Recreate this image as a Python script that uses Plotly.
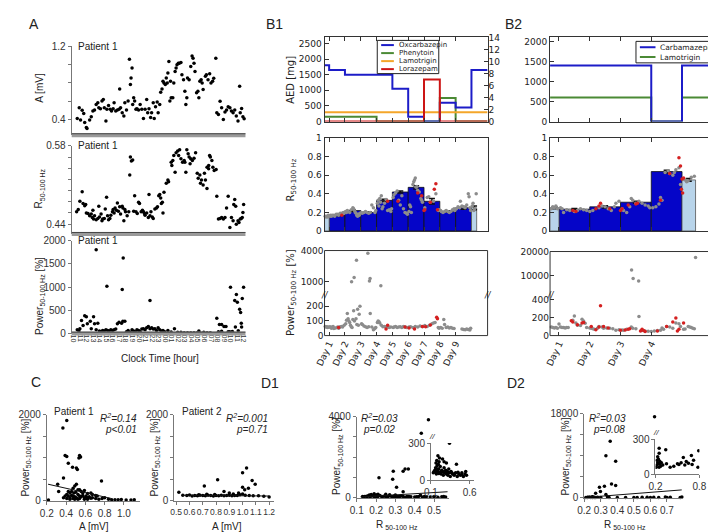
import plotly.graph_objects as go

# ======================= DATA =======================
# Panel A (Patient 1): (clock time in hours, value); 24+ = next day
a_amp_pts = [(10.60,0.411),(10.90,0.530),(11.10,0.396),(11.35,0.501),(11.59,0.468),(11.74,0.368),(11.99,0.314),(12.09,0.303),
 (12.49,0.396),(12.74,0.432),(12.99,0.494),(13.24,0.505),(13.49,0.566),(13.74,0.584),(13.89,0.530),(14.14,0.519),(14.38,0.602),
 (14.58,0.620),(14.73,0.530),(14.98,0.386),(15.13,0.512),(15.38,0.555),(15.63,0.512),(15.83,0.494),(16.08,0.519),(16.23,0.584),
 (16.48,0.494),(16.73,0.505),(16.98,0.512),(17.08,0.735),(17.22,0.530),(17.47,0.476),(17.72,0.440),(17.87,0.584),(18.12,0.505),
 (18.37,0.602),(18.57,1.059),(18.72,0.782),(18.82,0.854),(18.97,0.962),(19.07,0.566),(19.22,0.638),(19.37,0.602),(19.57,0.512),
 (19.72,0.519),(19.97,0.505),(20.21,0.566),(20.46,0.512),(20.71,0.411),(20.96,0.512),(21.21,0.620),(21.36,0.476),(21.56,0.519),
 (21.81,0.422),(21.96,0.476),(22.21,0.584),(22.36,0.411),(22.56,0.541),(22.81,0.591),(22.96,0.476),(23.20,0.566),(23.35,0.699),
 (23.55,0.735),(23.70,0.818),(23.85,0.800),(24.05,0.782),(24.20,0.854),(24.35,0.800),(24.45,0.908),(24.60,1.034),(24.75,0.602),
 (24.85,0.818),(24.95,0.638),(25.20,0.638),(25.35,0.800),(25.55,0.926),(25.70,0.962),(25.84,0.998),(26.04,1.016),(26.19,1.016),
 (26.44,1.023),(26.59,0.890),(26.84,0.836),(27.04,0.710),(27.19,0.566),(27.34,0.638),(27.44,0.854),(27.69,0.836),(27.94,0.980),
 (28.14,1.095),(28.29,1.070),(28.44,1.016),(28.59,0.926),(28.83,0.692),(29.03,0.710),(29.18,0.638),(29.33,0.818),(29.53,0.836),
 (29.68,0.800),(29.83,0.728),(30.18,0.872),(30.33,0.890),(30.58,0.836),(30.83,0.901),(31.03,0.800),(31.28,0.818),(31.45,0.85),
 (31.67,0.22),(31.77,1.07),(31.92,0.476),(32.17,0.457),(32.42,0.60),(32.66,0.53),(32.92,0.40),(33.17,0.483),(33.41,0.505),
 (33.66,0.54),(33.92,0.53),(34.16,0.494),(34.41,0.476),(34.66,0.505),(34.90,0.44),(35.16,0.386),(35.41,0.764),(35.50,0.476),
 (35.71,0.52),(35.91,0.43),(36.10,0.41)]

a_r_pts = [(10.50,0.462),(10.75,0.466),(11.00,0.481),(11.35,0.498),(11.49,0.477),(11.74,0.473),(11.89,0.475),(11.99,0.460),
 (12.24,0.459),(12.49,0.455),(12.74,0.458),(12.89,0.452),(12.99,0.465),(13.09,0.449),(13.24,0.455),(13.49,0.448),(13.74,0.450),
 (13.89,0.472),(13.99,0.453),(14.24,0.458),(14.38,0.446),(14.48,0.449),(14.73,0.450),(14.88,0.467),(15.08,0.488),(15.23,0.455),
 (15.38,0.448),(15.58,0.450),(15.73,0.456),(15.98,0.462),(16.08,0.466),(16.23,0.460),(16.38,0.469),(16.58,0.465),(16.73,0.478),
 (16.88,0.463),(17.08,0.471),(17.22,0.458),(17.47,0.472),(17.57,0.469),(17.72,0.446),(17.87,0.466),(17.97,0.462),(18.22,0.455),
 (18.47,0.462),(18.62,0.528),(18.72,0.560),(18.87,0.553),(19.07,0.555),(19.22,0.463),(19.37,0.491),(19.57,0.462),(19.77,0.459),
 (19.97,0.479),(20.11,0.477),(20.36,0.462),(20.56,0.465),(20.71,0.462),(20.86,0.459),(20.96,0.456),(21.21,0.460),(21.46,0.452),
 (21.56,0.493),(21.71,0.455),(21.86,0.462),(22.06,0.453),(22.21,0.450),(22.46,0.467),(22.71,0.469),(22.86,0.471),(23.05,0.491),
 (23.20,0.493),(23.35,0.487),(23.45,0.477),(23.60,0.479),(23.70,0.460),(23.85,0.497),(24.20,0.513),(24.45,0.519),(24.55,0.516),
 (24.95,0.551),(25.05,0.545),(25.20,0.554),(25.35,0.563),(25.55,0.533),(25.70,0.568),(25.94,0.571),(26.09,0.563),(26.24,0.573),
 (26.44,0.557),(26.69,0.551),(26.94,0.554),(27.04,0.551),(27.19,0.533),(27.34,0.573),(27.54,0.566),(27.69,0.560),(27.84,0.548),
 (27.94,0.557),(28.19,0.554),(28.44,0.558),(28.68,0.568),(28.93,0.531),(29.08,0.522),(29.33,0.528),(29.43,0.513),(29.58,0.519),
 (29.83,0.510),(30.03,0.531),(30.18,0.519),(30.42,0.504),(30.43,0.542),(30.67,0.539),(30.68,0.545),(30.82,0.563),(30.93,0.560),
 (31.17,0.554),(31.32,0.542),(31.52,0.536),(31.82,0.538),(31.92,0.490),(32.17,0.449),(32.42,0.450),(32.66,0.452),(32.92,0.449),
 (33.17,0.452),(33.41,0.469),(33.66,0.490),(33.92,0.434),(34.16,0.452),(34.41,0.446),(34.51,0.475),(34.66,0.484),(34.81,0.472),
 (34.90,0.440),(35.16,0.446),(35.31,0.443),(35.50,0.449),(35.66,0.450),(35.81,0.452),(35.91,0.461),(36.02,0.475)]

a_pow_pts = [(10.60,84),(10.85,56),(11.00,105),(11.25,281),(11.49,175),(11.74,386),(11.99,365),(12.14,211),(12.59,267),
 (12.74,105),(13.09,365),(13.24,211),(13.49,1804),(13.49,84),(13.74,225),(13.99,56),(14.24,42),(14.48,70),(14.73,56),(14.98,84),
 (15.13,1018),(15.23,70),(15.48,56),(15.73,84),(15.98,70),(16.23,84),(16.48,98),(16.73,211),(16.98,246),(17.37,225),(17.47,948),
 (17.62,1629),(17.57,267),(17.87,267),(18.12,42),(18.37,70),(18.72,28),(18.97,84),(19.22,56),(19.47,42),(19.72,84),(19.97,70),
 (20.21,42),(20.46,98),(20.71,105),(20.96,84),(21.21,126),(21.46,154),(21.71,716),(21.71,105),(21.96,126),(22.21,98),(22.46,105),
 (22.71,70),(22.96,126),(23.20,84),(23.45,56),(23.70,70),(23.95,42),(24.45,70),(24.95,35),(25.45,105),(25.94,28),(26.44,28),
 (26.94,21),(27.44,21),(27.94,21),(28.44,21),(28.93,21),(29.18,56),(29.43,14),(29.93,28),(30.43,21),(30.93,21),(31.92,330),
 (32.17,40),(32.32,197),(32.66,197),(32.66,50),(33.02,155),(33.32,155),(33.66,40),(34.01,997),(34.66,716),(34.76,141),
 (34.91,842),(35.06,674),(35.41,526),(35.56,456),(35.71,141),(35.81,758),(36.01,997),(35.66,225),(34.30,45),(33.90,40),(35.20,60)]

clock_hours = [10,11,12,13,14,15,16,17,18,19,20,21,22,23,24,25,26,27,28,29,30,31,32,33,34,35,36]
clock_labels = ["10","11","12","13","14","15","16","17","18","19","20","21","22","23",
                "00","01","02","03","04","05","06","07","08","09","10","11","12"]

# Panel B1 (days)
b1_oxc_t = [0.71,1.0,2.0,5.0,6.0,7.0,8.0,9.0,10.0,11.02]
b1_oxc_mg = [1800,1650,1500,1050,150,0,600,450,1650,1650]
b1_phe_t = [0.71,4.0,8.0,9.0,11.02]
b1_phe_mg = [150,0,750,0,0]
b1_ltg_t = [0.71,11.02]
b1_ltg_mg = [300,300]
b1_lzp_t = [0.71,7.0,8.0,11.02]
b1_lzp_mg = [0,7,0,0]          # right axis
b1_days = [1,2,3,4,5,6,7,8,9]
b1_r_mean = [0.17,0.22,0.20,0.33,0.42,0.47,0.32,0.21,0.25]
b1_r_err = [0.005,0.01,0.006,0.012,0.012,0.018,0.03,0.008,0.015]
b1_part_start = [0.71,10.0]
b1_part_end = [1.0,10.33]
b1_part_mean = [0.16,0.25]
b1_part_err = [0.005,0.02]
b1_r_gray = [(0.75,0.16),(0.8,0.15),(0.85,0.16),(0.9,0.15),(0.95,0.17),(1.05,0.16),(1.1,0.17),(1.15,0.16),(1.2,0.17),
 (1.3,0.17),(1.35,0.16),(1.45,0.18),(1.55,0.18),(1.6,0.17),(1.7,0.19),(1.8,0.19),(1.9,0.2),(1.95,0.19),(2.05,0.21),(2.1,0.2),
 (2.15,0.22),(2.2,0.21),(2.3,0.2),(2.4,0.23),(2.5,0.25),(2.55,0.24),(2.6,0.22),(2.65,0.2),(2.7,0.19),(2.75,0.17),(2.8,0.16),
 (2.85,0.18),(2.9,0.17),(2.95,0.19),(3.05,0.2),(3.1,0.19),(3.2,0.2),(3.3,0.21),(3.4,0.2),(3.5,0.19),(3.6,0.2),(3.7,0.28),
 (3.8,0.25),(3.9,0.2),(3.95,0.22),(4.05,0.3),(4.1,0.33),(4.15,0.27),(4.2,0.35),(4.25,0.31),(4.3,0.38),(4.35,0.24),(4.4,0.26),
 (4.5,0.3),(4.6,0.34),(4.7,0.22),(4.8,0.23),(4.9,0.21),(4.95,0.24),(5.05,0.36),(5.1,0.39),(5.2,0.41),(5.3,0.43),(5.4,0.33),
 (5.5,0.28),(5.6,0.38),(5.7,0.24),(5.8,0.2),(5.9,0.19),(5.95,0.18),(6.05,0.21),(6.1,0.28),(6.15,0.26),(6.2,0.2),(6.3,0.5),
 (6.35,0.53),(6.4,0.55),(6.45,0.57),(6.5,0.47),(6.55,0.48),(6.6,0.44),(6.7,0.42),(6.8,0.35),(6.85,0.33),(6.9,0.31),(7.05,0.25),
 (7.2,0.36),(7.3,0.37),(7.4,0.31),(7.6,0.32),(7.75,0.4),(7.9,0.22),(7.95,0.23),(8.05,0.22),(8.1,0.21),(8.2,0.2),(8.3,0.21),
 (8.4,0.22),(8.5,0.21),(8.6,0.2),(8.7,0.21),(8.8,0.23),(8.9,0.24),(8.95,0.22),(9.05,0.24),(9.15,0.26),(9.25,0.25),(9.3,0.32),
 (9.4,0.27),(9.5,0.26),(9.6,0.25),(9.7,0.28),(9.8,0.4),(9.85,0.37),(9.9,0.25),(9.95,0.22),(10.05,0.27),(10.1,0.3),(10.15,0.22),
 (10.2,0.24),(10.3,0.4)]
b1_r_red = [(1.8,0.17),(4.7,0.32),(5.35,0.32),(6.6,0.41),(6.85,0.38),(7.0,0.22),(7.05,0.23),(7.4,0.31),(7.65,0.45),(7.75,0.51),(7.85,0.23)]
b1_p_gray = [(0.75,62),(0.8,58),(0.85,60),(0.9,55),(0.95,58),(1.05,60),(1.1,55),(1.15,50),(1.2,58),(1.25,62),(1.3,48),(1.4,52),
 (1.5,55),(1.55,58),(1.6,50),(1.65,55),(1.7,60),(1.8,62),(1.85,58),(1.95,70),(2.05,80),(2.1,105),(2.15,150),(2.2,115),(2.25,100),
 (2.3,90),(2.35,70),(2.4,60),(2.45,55),(2.5,110),(2.55,170),(2.6,100),(2.7,115),(2.75,75),(2.8,180),(2.85,70),(2.9,145),(2.95,200),
 (3.05,80),(3.1,75),(3.2,65),(3.3,60),(3.4,55),(3.5,60),(3.6,150),(3.7,58),(3.8,40),(3.85,45),(3.9,50),(3.95,55),(4.05,90),
 (4.1,100),(4.15,95),(4.2,85),(4.3,70),(4.4,60),(4.5,62),(4.6,58),(4.7,60),(4.8,55),(4.9,58),(5.05,55),(5.1,58),(5.2,62),(5.3,55),
 (5.4,58),(5.5,60),(5.6,55),(5.7,62),(5.8,58),(5.9,55),(6.05,58),(6.15,60),(6.3,55),(6.45,62),(6.6,58),(6.75,65),(6.9,60),
 (7.05,68),(7.2,62),(7.35,70),(7.5,80),(7.6,85),(7.7,90),(7.9,55),(7.95,50),(8.05,55),(8.15,50),(8.25,110),(8.3,75),(8.4,55),
 (8.5,58),(8.6,52),(8.7,55),(8.8,50),(8.9,48),(9.4,45),(9.5,42),(9.6,40),(9.7,45),(9.8,42),(9.9,38),(9.95,50),
 (2.42,1000),(2.58,1419),(2.73,3097),(3.45,3774),(3.55,1065),(3.59,1323),(4.27,600)]
b1_p_red = [(1.6,55),(4.6,45),(4.7,70),(5.8,58),(6.4,45),(6.9,62),(7.1,60),(7.4,72),(7.8,125),(7.85,115),(6.05,52)]

# Panel B2 (days)
b2_cbz_t = [0.71,4.0,5.0,6.01]
b2_cbz_mg = [1400,0,1400,1400]
b2_ltg_t = [0.71,4.0,5.0,6.01]
b2_ltg_mg = [600,0,600,600]
b2_days = [1,2,3,4]
b2_r_mean = [0.235,0.26,0.31,0.64]
b2_r_err = [0.006,0.012,0.01,0.015]
b2_part_start = [0.71,5.0]
b2_part_end = [1.0,5.44]
b2_part_mean = [0.25,0.55]
b2_part_err = [0.01,0.015]
b2_r_gray = [(0.75,0.24),(0.8,0.26),(0.85,0.25),(0.9,0.27),(0.95,0.24),(1.05,0.25),(1.1,0.24),(1.15,0.2),(1.25,0.23),(1.35,0.22),
 (1.5,0.21),(1.6,0.22),(1.7,0.24),(1.8,0.23),(1.9,0.22),(2.0,0.21),(2.1,0.22),(2.3,0.25),(2.4,0.27),(2.5,0.26),(2.6,0.24),
 (2.7,0.22),(2.8,0.26),(2.85,0.3),(2.95,0.32),(3.05,0.24),(3.1,0.22),(3.2,0.2),(3.3,0.26),(3.35,0.35),(3.4,0.33),(3.5,0.3),
 (3.6,0.32),(3.7,0.3),(3.8,0.28),(3.9,0.27),(3.95,0.25),(4.05,0.25),(4.15,0.26),(4.25,0.29),(4.3,0.36),(4.35,0.33),(4.45,0.63),
 (4.55,0.65),(4.6,0.62),(4.7,0.6),(4.75,0.63),(4.8,0.66),(4.9,0.68),(4.95,0.5),(5.05,0.56),(5.1,0.55),(5.15,0.53),(5.2,0.54),
 (5.3,0.58),(5.4,0.59)]
b2_r_red = [(1.45,0.22),(1.55,0.21),(2.2,0.24),(2.3,0.27),(2.35,0.3),(2.65,0.24),(3.0,0.22),(3.05,0.24),(3.25,0.28),(3.5,0.29),
 (3.55,0.3),(4.3,0.33),(4.6,0.62),(4.9,0.79),(4.95,0.7),(5.0,0.56),(5.05,0.57),(5.02,0.41),(4.98,0.45)]
b2_p_gray = [(0.75,95),(0.8,90),(0.85,85),(0.9,88),(0.95,82),(1.0,128),(1.05,95),(1.1,90),(1.15,88),(1.2,85),(1.25,88),(1.3,90),
 (1.45,170),(1.5,215),(1.55,140),(1.6,115),(1.7,110),(1.75,180),(1.8,160),(1.85,135),(1.9,90),(2.0,85),(2.05,80),(2.1,75),
 (2.15,70),(2.25,80),(2.3,100),(2.4,95),(2.45,80),(2.55,85),(2.65,80),(2.75,75),(2.85,60),(2.95,65),(3.05,62),(3.1,60),(3.2,70),
 (3.35,95),(3.4,80),(3.5,75),(3.6,210),(3.7,55),(3.8,50),(3.9,48),(4.0,45),(4.1,50),(4.2,55),(4.3,60),(4.35,85),(4.4,70),
 (4.5,100),(4.6,95),(4.7,80),(4.8,140),(4.9,130),(4.95,100),(5.05,70),(5.1,72),(5.2,100),(5.25,95),(5.3,90),(5.35,80),(5.4,75),
 (3.36,12360),(3.41,8890),(3.59,7780),(5.44,17640)]
b2_p_red = [(1.4,165),(1.45,150),(1.6,120),(1.75,140),(1.8,145),(2.05,100),(2.2,65),(2.3,95),(2.35,330),(2.45,100),(2.6,85),
 (3.0,60),(3.15,62),(3.25,70),(3.3,75),(3.65,50),(3.7,70),(3.75,55),(3.8,45),(4.2,50),(4.5,100),(4.7,150),(4.8,195),(4.85,50),
 (4.9,70),(5.05,140)]
day_ticks_b1 = [1,2,3,4,5,6,7,8,9]
day_labels_b1 = ["Day 1","Day 2","Day 3","Day 4","Day 5","Day 6","Day 7","Day 8","Day 9"]
day_ticks_b2 = [1,2,3,4]
day_labels_b2 = ["Day 1","Day 2","Day 3","Day 4"]

# Panel C: (A [mV], Power [%])
c1_pts = [(0.407,1868),(0.367,1694),(0.39,1054),(0.407,1032),(0.423,872),(0.467,778),(0.507,763),(0.517,727),(0.54,1054),
 (0.533,996),(0.55,1018),(0.373,531),(0.313,385),(0.323,218),(0.507,385),(0.767,458),(0.473,291),(0.49,342),(0.457,218),
 (0.54,254),(0.557,218),(0.59,240),(0.407,145),(0.423,109),(0.44,73),(0.457,124),(0.473,109),(0.49,95),(0.507,73),(0.523,145),
 (0.54,109),(0.557,95),(0.573,124),(0.59,73),(0.607,109),(0.623,73),(0.64,95),(0.657,58),(0.673,73),(0.707,51),(0.74,36),
 (0.773,51),(0.80,73),(0.84,36),(0.873,22),(0.907,22),(0.94,22),(0.973,29),(1.023,15),(1.073,15),(1.107,22),(0.217,15),
 (0.48,182),(0.50,196),(0.523,254),(0.573,182),(0.623,167),(0.673,145),(0.723,109),(0.657,182),(0.707,124),(0.44,182),
 (0.423,218),(0.39,109),(0.373,73),(0.407,51),(0.49,36),(0.54,51),(0.59,36),(0.623,36),(0.523,36),(0.473,51),(0.44,36)]
c1_fit_x = [0.213,0.873]
c1_fit_y = [385,51]
c2_pts = [(0.712,342),(0.812,487),(1.0,654),(1.03,763),(1.072,473),(1.095,385),(1.0,313),(1.044,291),(1.016,254),(0.86,218),
 (0.90,182),(0.52,196),(0.55,130),(0.58,120),(0.6,135),(0.62,110),(0.64,125),(0.66,118),(0.68,130),(0.7,122),(0.72,115),
 (0.74,128),(0.76,120),(0.78,112),(0.8,125),(0.82,118),(0.84,130),(0.86,115),(0.88,122),(0.9,128),(0.92,118),(0.94,125),
 (0.96,120),(0.98,140),(1.0,160),(1.02,130),(1.05,120),(1.08,115),(1.12,118),(1.16,105),(1.2,90),(0.67,140),(0.73,150),
 (0.79,145),(0.93,160),(0.97,180)]
c2_fit_x = [0.55,1.2]
c2_fit_y = [128,110]

# Panel D: (R 50-100 Hz, Power [%])
d1_pts = [(0.471,3852),(0.434,3180),(0.34,1314),(0.35,1418),(0.367,1418),(0.289,1314),(0.215,985),(0.286,911),(0.306,523),
 (0.34,299),(0.13,60),(0.15,80),(0.16,100),(0.17,50),(0.18,120),(0.19,70),(0.2,90),(0.21,60),(0.22,110),(0.23,50),(0.24,80),
 (0.25,70),(0.26,40),(0.27,100),(0.28,60),(0.29,80),(0.3,50),(0.31,70),(0.32,40),(0.33,90),(0.34,60),(0.35,30),(0.36,70),
 (0.38,50),(0.4,40),(0.42,60),(0.44,30),(0.46,50),(0.48,40),(0.5,60),(0.52,30),(0.54,50),(0.56,40),(0.165,140),(0.175,160),
 (0.185,90),(0.195,130),(0.205,150),(0.19,198),(0.25,172),(0.21,180),(0.27,150),(0.3,140),(0.43,130),(0.14,70),(0.155,65),
 (0.17,75),(0.2,55),(0.23,70),(0.26,65),(0.29,60),(0.32,65),(0.37,60),(0.41,55),(0.45,65),(0.5,45),(0.55,70)]
d1_fit_x = [0.12,0.57]
d1_fit_y = [45,300]
d2_pts = [(0.625,17345),(0.357,12108),(0.331,9032),(0.39,7854),(0.365,2945),(0.39,2618),(0.292,2291),(0.322,2487),
 (0.298,1374),(0.269,982),(0.331,720),(0.25,222),(0.34,209),(0.58,144),(0.69,162),(0.79,201),(0.52,84),(0.21,60),(0.22,120),
 (0.23,150),(0.24,90),(0.25,180),(0.26,110),(0.27,70),(0.28,100),(0.22,80),(0.23,100),(0.24,130),(0.25,60),(0.26,90),
 (0.3,80),(0.45,70),(0.5,90),(0.55,100),(0.6,80),(0.62,110),(0.65,95),(0.7,85),(0.72,120),(0.78,60),(0.4,60),(0.35,90)]
d2_fit_x = [0.2,0.79]
d2_fit_y = [65,1700]

# ======================= LAYOUT HELPERS =======================
W, H = 716, 532
ARIAL = "Liberation Sans, Arial, sans-serif"
DEJ = "DejaVu Sans, sans-serif"

def dx(a, b):
    return [a / W, b / W]

def dy(top, bottom):
    return [1 - bottom / H, 1 - top / H]

fig = go.Figure()
L = dict(width=W, height=H, margin=dict(l=0, r=0, t=0, b=0), paper_bgcolor="white",
         plot_bgcolor="rgba(0,0,0,0)", showlegend=False)
shapes, ann = [], []
cnt = [0]

def axes(xdom, ydom, xr, yr, xo=None, yo=None):
    cnt[0] += 1
    s = "" if cnt[0] == 1 else str(cnt[0])
    xa = dict(domain=dx(*xdom), range=xr, anchor="y" + s, showgrid=False, zeroline=False,
              showline=False, ticks="", showticklabels=False)
    ya = dict(domain=dy(*ydom), range=yr, anchor="x" + s, showgrid=False, zeroline=False,
              showline=False, ticks="", showticklabels=False)
    if xo: xa.update(xo)
    if yo: ya.update(yo)
    L["xaxis" + s] = xa
    L["yaxis" + s] = ya
    return "x" + s, "y" + s

def text(x, y, t, size=10, font=ARIAL, angle=0, xa="center", ya="middle", italic=False, color="#222"):
    ann.append(dict(x=x / W, y=1 - y / H, xref="paper", yref="paper", text=t, showarrow=False,
                    textangle=angle, xanchor=xa, yanchor=ya,
                    font=dict(family=font, size=size, color=color,
                              style="italic" if italic else "normal")))

def hline(x0, x1, y, color, width, dash="solid"):
    shapes.append(dict(type="line", xref="paper", yref="paper", x0=x0 / W, x1=x1 / W,
                       y0=1 - y / H, y1=1 - y / H, line=dict(color=color, width=width, dash=dash)))

def unzip(pts):
    return [p[0] for p in pts], [p[1] for p in pts]

def dots(xa, ya, pts, color="black", size=3.5, clip=False):
    x, y = unzip(pts)
    fig.add_trace(go.Scatter(x=x, y=y, mode="markers", xaxis=xa, yaxis=ya, cliponaxis=clip,
                             marker=dict(color=color, size=size, line=dict(width=0))))

def yA(vals, texts):
    return dict(showline=True, linecolor="#777", linewidth=1, ticks="outside", ticklen=3, tickcolor="#777",
                showticklabels=True, tickvals=vals, ticktext=texts,
                tickfont=dict(family=ARIAL, size=10, color="#333"))

# ======================= PANEL A =======================
A_X = (55, 233)
A_XR = [9.75, 36.3]
xa, ya = axes(A_X, (33, 124), A_XR, [0.23, 1.2], yo=yA([0.4, 0.6, 0.8, 1.0, 1.2], ["0.4", "", "", "", "1.2"]))
dots(xa, ya, a_amp_pts)
xa, ya = axes(A_X, (135, 225), A_XR, [0.4225, 0.58],
              yo=yA([0.44, 0.46, 0.48, 0.50, 0.52, 0.54, 0.56, 0.58], ["0.44", "", "", "", "", "", "", "0.58"]))
dots(xa, ya, a_r_pts)
xa, ya = axes(A_X, (232, 327), A_XR, [0, 2000],
              xo=dict(showticklabels=True, tickvals=clock_hours, ticktext=clock_labels, tickangle=90,
                      tickfont=dict(family=ARIAL, size=7, color="#333")),
              yo=yA([0, 500, 1000, 1500, 2000], ["0", "500", "1000", "1500", "2000"]))
dots(xa, ya, a_pow_pts)
for yb in (124, 225, 327):
    hline(55, 233, yb, "#9a9a9a", 4)
    hline(55, 233, yb - 1.5, "#444", 1)
for yt in (33, 135, 232):
    text(59, yt, "Patient 1", size=10, xa="left")
text(22, 75, "A [mV]", size=10, angle=-90)
text(22, 178, "R<sub>50-100 Hz</sub>", size=10, angle=-90)
text(22, 288, "Power<sub>50-100 Hz</sub> [%]", size=10, angle=-90)
text(145, 352, "Clock Time [hour]", size=10)

# ======================= PANEL B helpers =======================
def yB(vals, texts, mirror=True):
    return dict(showline=True, mirror=mirror, linecolor="#333", linewidth=1, ticks="inside", ticklen=4,
                tickcolor="#333", showticklabels=True, tickvals=vals, ticktext=texts,
                tickfont=dict(family=DEJ, size=9, color="#222"))

def xB(vals):
    return dict(showline=True, mirror="ticks", linecolor="#333", linewidth=1, ticks="inside", ticklen=4,
                tickcolor="#333", tickvals=vals)

def step(xa, ya, t, v, color):
    fig.add_trace(go.Scatter(x=t, y=v, mode="lines", line=dict(color=color, width=2, shape="hv"),
                             xaxis=xa, yaxis=ya))

BLUE, GREEN, ORANGE, RED = "#1c1cc8", "#4b8a35", "#f4a62a", "#cc1515"
BARBLUE, LIGHT = "#0505c8", "#b8d4ea"
GRAY, REDDOT = "#8c8c8c", "#d42020"

def bars(xa, ya, days, mean, err, ps, pe, pm, perr):
    fig.add_trace(go.Bar(x=[d + 0.5 for d in days], y=mean, width=[1] * len(days), xaxis=xa, yaxis=ya,
                         marker=dict(color=BARBLUE, line=dict(color="#111", width=0.8)),
                         error_y=dict(type="data", array=err, color="#111", thickness=1.5, width=3)))
    fig.add_trace(go.Bar(x=[(a + b) / 2 for a, b in zip(ps, pe)], y=pm, width=[b - a for a, b in zip(ps, pe)],
                         xaxis=xa, yaxis=ya, marker=dict(color=LIGHT, line=dict(color="#555", width=0.8)),
                         error_y=dict(type="data", array=perr, color="#111", thickness=1.5, width=3)))

def legend_box(x0, y0, x1, y1, items, size, ln):
    shapes.append(dict(type="rect", xref="paper", yref="paper", x0=x0 / W, x1=x1 / W, y0=1 - y1 / H, y1=1 - y0 / H,
                       line=dict(color="#222", width=1), fillcolor="white"))
    for (label, color, yy) in items:
        hline(x0 + 4, x0 + 4 + ln, yy, color, 2)
        text(x0 + 7 + ln, yy, label, size=size, font=DEJ, xa="left")

def frame(x0, y0, x1, y1):
    shapes.append(dict(type="rect", xref="paper", yref="paper", x0=x0 / W, x1=x1 / W, y0=1 - y1 / H, y1=1 - y0 / H,
                       line=dict(color="#333", width=1)))

# ======================= PANEL B1 =======================
B1X = (314, 481)
B1R = [0.71, 11.02]
xa, ya = axes(B1X, (24, 110), B1R, [0, 2690], xo=xB(day_ticks_b1),
              yo=yB([0, 500, 1000, 1500, 2000, 2500], ["0", "500", "1000", "1500", "2000", "2500"]))
L["yaxis40"] = dict(overlaying=ya, anchor=xa, side="right", range=[0, 14], showgrid=False, zeroline=False,
                    showline=False, ticks="inside", ticklen=4, tickcolor="#333",
                    tickvals=[0, 2, 4, 6, 8, 10, 12, 14], ticktext=["0", "2", "4", "6", "8", "10", "12", "14"],
                    tickfont=dict(family=DEJ, size=9, color="#222"))
step(xa, ya, b1_phe_t, b1_phe_mg, GREEN)
step(xa, ya, b1_ltg_t, b1_ltg_mg, ORANGE)
step(xa, "y40", b1_lzp_t, b1_lzp_mg, RED)
step(xa, ya, b1_oxc_t, b1_oxc_mg, BLUE)
legend_box(368, 27, 431, 61, [("Oxcarbazepin", BLUE, 31.8), ("Phenytoin", GREEN, 40), ("Lamotrigin", ORANGE, 48.2),
                              ("Lorazepam", RED, 56.4)], 7, 13)

xa, ya = axes(B1X, (127, 222), B1R, [0, 1], xo=xB(day_ticks_b1),
              yo=yB([0, 0.2, 0.4, 0.6, 0.8, 1.0], ["0", "0.2", "0.4", "0.6", "0.8", "1"]))
bars(xa, ya, b1_days, b1_r_mean, b1_r_err, b1_part_start, b1_part_end, b1_part_mean, b1_part_err)
dots(xa, ya, b1_r_gray, GRAY, 3.5)
dots(xa, ya, b1_r_red, REDDOT, 3.5)

# broken axis: upper + lower
xa, ya = axes(B1X, (242, 284), B1R, [30, 4050],
              yo=dict(ticks="inside", ticklen=4, tickcolor="#333", showticklabels=True, tickvals=[1000, 4000],
                      ticktext=["1000", "4000"], tickfont=dict(family=DEJ, size=9, color="#222")))
dots(xa, ya, [p for p in b1_p_gray if p[1] > 300], GRAY, 3.5)
xa, ya = axes(B1X, (284, 329), B1R, [0, 300],
              xo=dict(ticks="inside", ticklen=4, tickcolor="#333", showticklabels=True, tickvals=day_ticks_b1,
                      ticktext=day_labels_b1, tickangle=-65, tickfont=dict(family=DEJ, size=9, color="#222")),
              yo=dict(ticks="inside", ticklen=4, tickcolor="#333", showticklabels=True, tickvals=[0, 100, 200],
                      ticktext=["0", "100", "200"], tickfont=dict(family=DEJ, size=9, color="#222")))
dots(xa, ya, [p for p in b1_p_gray if p[1] <= 300], GRAY, 3.5)
dots(xa, ya, b1_p_red, REDDOT, 3.5)
frame(314, 242, 481, 329)
text(314, 288, "//", size=8, font=DEJ, italic=True)
text(481, 288, "//", size=8, font=DEJ, italic=True)

text(279, 67, "AED [mg]", size=10, font=DEJ, angle=-90)
text(280, 170, "R<sub>50-100 Hz</sub>", size=10, font=DEJ, angle=-90)
text(280, 285, "Power<sub>50-100 Hz</sub> [%]", size=10, font=DEJ, angle=-90)

# ======================= PANEL B2 =======================
B2X = (545, 712)
B2R = [0.71, 6.01]
xa, ya = axes(B2X, (24, 110), B2R, [0, 2100], xo=xB(day_ticks_b2),
              yo=yB([0, 500, 1000, 1500, 2000], ["0", "500", "1000", "1500", "2000"]))
step(xa, ya, b2_ltg_t, b2_ltg_mg, GREEN)
step(xa, ya, b2_cbz_t, b2_cbz_mg, BLUE)
legend_box(633, 28, 712, 50, [("Carbamazepin", BLUE, 34), ("Lamotrigin", GREEN, 44)], 7.5, 16)

xa, ya = axes(B2X, (127, 222), B2R, [0, 1], xo=xB(day_ticks_b2),
              yo=yB([0, 0.2, 0.4, 0.6, 0.8, 1.0], ["0", "0.2", "0.4", "0.6", "0.8", "1"]))
bars(xa, ya, b2_days, b2_r_mean, b2_r_err, b2_part_start, b2_part_end, b2_part_mean, b2_part_err)
dots(xa, ya, b2_r_gray, GRAY, 3.5)
dots(xa, ya, b2_r_red, REDDOT, 3.5)

xa, ya = axes(B2X, (243, 284), B2R, [3400, 20100],
              yo=dict(ticks="inside", ticklen=4, tickcolor="#333", showticklabels=True, tickvals=[10000, 20000],
                      ticktext=["10000", "20000"], tickfont=dict(family=DEJ, size=9, color="#222")))
dots(xa, ya, [p for p in b2_p_gray if p[1] > 500], GRAY, 3.5)
xa, ya = axes(B2X, (284, 329), B2R, [0, 486],
              xo=dict(ticks="inside", ticklen=4, tickcolor="#333", showticklabels=True, tickvals=day_ticks_b2,
                      ticktext=day_labels_b2, tickangle=-65, tickfont=dict(family=DEJ, size=9, color="#222")),
              yo=dict(ticks="inside", ticklen=4, tickcolor="#333", showticklabels=True, tickvals=[0, 200, 400],
                      ticktext=["0", "200", "400"], tickfont=dict(family=DEJ, size=9, color="#222")))
dots(xa, ya, [p for p in b2_p_gray if p[1] <= 500], GRAY, 3.5)
dots(xa, ya, b2_p_red, REDDOT, 3.5)
frame(545, 243, 712, 329)
text(546, 288, "//", size=8, font=DEJ, italic=True)
text(711, 288, "//", size=8, font=DEJ, italic=True)

# ======================= PANELS C / D =======================
def xS(vals, texts, size=10):
    return dict(showline=True, linecolor="#777", linewidth=1, ticks="outside", ticklen=3, tickcolor="#777",
                showticklabels=True, tickvals=vals, ticktext=texts, tickangle=0,
                tickfont=dict(family=ARIAL, size=size, color="#333"))

def fitline(xa, ya, fx, fy):
    fig.add_trace(go.Scatter(x=fx, y=fy, mode="lines", line=dict(color="#111", width=1), xaxis=xa, yaxis=ya))

xa, ya = axes((29.5, 125), (410, 498), [0.2, 1.167], [0, 2000],
              xo=xS([0.2, 0.4, 0.6, 0.8, 1.0], ["0.2", "0.4", "0.6", "0.8", "1.0"]),
              yo=xS([0, 500, 1000, 1500, 2000], ["0", "", "", "", "2000"]))
dots(xa, ya, c1_pts)
fitline(xa, ya, c1_fit_x, c1_fit_y)
text(35, 407, "Patient 1", size=10, xa="left")
text(124, 413, "R<sup>2</sup>=0.14", size=10, xa="right", italic=True)
text(124, 425, "p<0.01", size=10, xa="right", italic=True)
text(8, 454, "Power<sub>50-100 Hz</sub> [%]", size=10, angle=-90)
text(78, 524, "A [mV]", size=10)

xa, ya = axes((160, 262), (410, 498), [0.485, 1.235], [0, 2000],
              xo=xS([0.5, 0.6, 0.7, 0.8, 0.9, 1.0, 1.1, 1.2], ["0.5", "0.6", "0.7", "0.8", "0.9", "1.0", "1.1", "1.2"], 8.5),
              yo=xS([0, 500, 1000, 1500, 2000], ["0", "", "", "", "2000"]))
dots(xa, ya, c2_pts)
fitline(xa, ya, c2_fit_x, c2_fit_y)
text(166, 407, "Patient 2", size=10, xa="left")
text(258, 413, "R<sup>2</sup>=0.001", size=10, xa="right", italic=True)
text(258, 425, "p=0.71", size=10, xa="right", italic=True)
text(140, 454, "Power<sub>50-100 Hz</sub> [%]", size=10, angle=-90)
text(214, 524, "A [mV]", size=10)

xa, ya = axes((347, 441), (412, 495), [0.1, 0.575], [0, 4000],
              xo=xS([0.1, 0.2, 0.3, 0.4, 0.5], ["0.1", "0.2", "0.3", "0.4", "0.5"]),
              yo=xS([0, 1000, 2000, 3000, 4000], ["0", "", "", "", "4000"]))
dots(xa, ya, d1_pts)
fitline(xa, ya, d1_fit_x, d1_fit_y)
text(370, 413, "R<sup>2</sup>=0.03", size=10, italic=True)
text(370, 425, "p=0.02", size=10, italic=True)
text(327, 452, "Power<sub>50-100 Hz</sub> [%]", size=10, angle=-90)
text(388, 523, "R<sub> 50-100 Hz</sub>", size=10)
xa, ya = axes((423, 467), (439, 477), [0.1, 0.656], [0, 300],
              xo=xS([0.1, 0.6], ["0.1", "0.6"]), yo=xS([0, 300], ["0", "300"]))
dots(xa, ya, d1_pts, clip=True)
text(424, 432, "//", size=8, italic=True)

xa, ya = axes((580, 680), (409, 495), [0.2, 0.79], [0, 18000],
              xo=xS([0.2, 0.3, 0.4, 0.5, 0.6, 0.7], ["0.2", "0.3", "0.4", "0.5", "0.6", "0.7"]),
              yo=xS([0, 4500, 9000, 13500, 18000], ["0", "", "", "", "18000"]))
dots(xa, ya, d2_pts)
fitline(xa, ya, d2_fit_x, d2_fit_y)
text(604, 413, "R<sup>2</sup>=0.03", size=10, italic=True)
text(605, 425, "p=0.08", size=10, italic=True)
text(561, 453, "Power<sub>50-100 Hz</sub> [%]", size=10, angle=-90)
text(622, 523, "R<sub> 50-100 Hz</sub>", size=10)
xa, ya = axes((653, 698), (435, 471), [0.2, 0.8], [0, 300],
              xo=xS([0.2, 0.8], ["0.2", "0.8"]), yo=xS([0, 300], ["0", "300"]))
dots(xa, ya, d2_pts, clip=True)
text(654, 428, "//", size=8, italic=True)

# panel letters
for (lx, ly, lt) in [(16, 10, "A"), (263, 10, "B1"), (508, 10, "B2"), (18, 377, "C"), (258, 378, "D1"), (510, 378, "D2")]:
    text(lx, ly, lt, size=14)

L["shapes"] = shapes
L["annotations"] = ann
fig.update_layout(**L)
fig.write_html("out.html")
